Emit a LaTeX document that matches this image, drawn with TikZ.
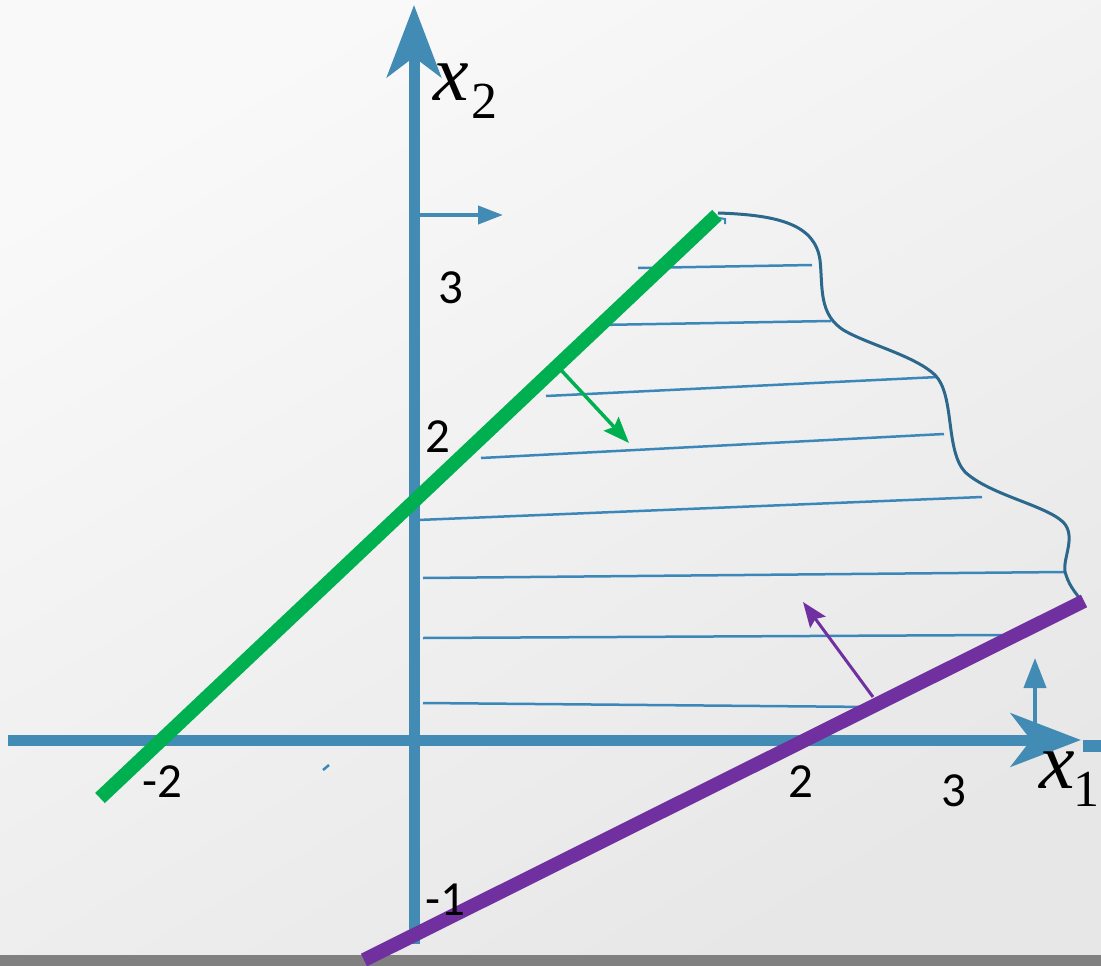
\documentclass[tikz,border=0pt]{standalone}
\usepackage{fontspec}
\setmainfont{Liberation Serif}
\newfontfamily\tickfont{Carlito}
\usetikzlibrary{arrows.meta}
\definecolor{axisblue}{RGB}{66,139,180}
\definecolor{hatchblue}{RGB}{60,135,185}
\definecolor{curveblue}{RGB}{44,104,140}
\definecolor{mygreen}{RGB}{0,176,80}
\definecolor{mypurple}{RGB}{112,48,160}
\definecolor{bgA}{RGB}{249,249,249}
\definecolor{bgB}{RGB}{231,231,231}
\definecolor{barGray}{RGB}{128,128,128}
\newcommand{\subidx}[2]{\kern#1\raisebox{-18pt}{\fontsize{52}{52}\selectfont\upshape #2}}
\begin{document}
\begin{tikzpicture}[x=1pt,y=-1pt,
  axisline/.style={draw=axisblue,line width=11pt},
  smallarrow/.style={draw=axisblue,line width=4pt},
  hatch/.style={draw=hatchblue,line width=2.5pt},
  boundary/.style={draw=curveblue,line width=3pt},
  ticklab/.style={font=\tickfont\fontsize{49}{49}\selectfont,inner sep=0pt,anchor=base},
  varlab/.style={font=\fontsize{80}{80}\selectfont\itshape,inner sep=0pt,anchor=base west},
  constraint/.style={line width=14pt}
]
\useasboundingbox (0,0) rectangle (1101,966);
\shade[top color=bgA,bottom color=bgB,shading angle=30] (0,0) rectangle (1101,966);
\fill[barGray] (0,955) rectangle (1101,966);

% hatch lines
\draw[hatch] (638,268) -- (812,265);
\draw[hatch] (598,325) -- (831,321);
\draw[hatch] (546,396) -- (938,377);
\draw[hatch] (481,458) -- (944,434);
\draw[hatch] (418,520) -- (982,497);
\draw[hatch] (423,578) -- (1065,572);
\draw[hatch] (423,638) -- (1002,635);
\draw[hatch] (423,703) -- (873,707);

% boundary curve
\draw[boundary] (718,213) .. controls (780,215) and (815,225) .. (820,260)
  .. controls (823,287) and (818,315) .. (845,331)
  .. controls (870,345) and (915,356) .. (935,375)
  .. controls (955,395) and (945,450) .. (965,472)
  .. controls (990,495) and (1045,505) .. (1063,522)
  .. controls (1078,537) and (1060,562) .. (1066,575)
  .. controls (1070,588) and (1078,595) .. (1082,602);
\draw[hatchblue,line width=2pt] (719,218) -- (725,219) -- (725,224);
\draw[hatchblue,line width=2.5pt] (323,770) -- (329,765);

% axes
\coordinate (x1s) at (8,740);
\coordinate (x1e) at (1081,740);
\coordinate (x2s) at (414,944);
\coordinate (x2e) at (414,5);
\draw[axisline,-{Stealth[length=70pt,width=53pt,inset=20pt]}] (x1s) -- (x1e);
\draw[axisline,-{Stealth[length=72pt,width=54pt,inset=20pt]}] (x2s) -- (x2e);
\fill[axisblue] (1083,740) rectangle (1101,752);

% small direction arrows
\coordinate (ta1) at (419,215);
\coordinate (ta2) at (503,215);
\draw[smallarrow,-{Triangle[length=25pt,width=18pt]}] (ta1) -- (ta2);
\coordinate (ra1) at (1035,723);
\coordinate (ra2) at (1035,658);
\draw[smallarrow,-{Triangle[length=30pt,width=22pt]}] (ra1) -- (ra2);

% constraint lines
\coordinate (g1) at (100,798);
\coordinate (g2) at (717,215);
\draw[mygreen,constraint] (g1) -- (g2);
\coordinate (p1) at (364,960);
\coordinate (p2) at (1084,601);
\draw[mypurple,constraint] (p1) -- (p2);

% normal arrows
\coordinate (ga1) at (561,370);
\coordinate (ga2) at (629,443);
\draw[mygreen,line width=3.5pt,-{Stealth[length=26pt,width=20pt,inset=4pt]}] (ga1) -- (ga2);
\coordinate (pa1) at (873,697);
\coordinate (pa2) at (803,602);
\draw[mypurple,line width=3pt,-{Stealth[length=25pt,width=19pt,inset=4pt]}] (pa1) -- (pa2);

% tick labels
\node[ticklab] (t3y) at (451,303) {3};
\node[ticklab] (t2y) at (438,452) {2};
\node[ticklab] (tm2x) at (162,797) {-2};
\node[ticklab] (t2x) at (801,797) {2};
\node[ticklab] (t3x) at (954,806) {3};
\node[ticklab] (tm1y) at (445,915) {-1};

% axis labels
\node[varlab] (lx2) at (433,100) {x\subidx{3pt}{2}};
\node[varlab] (lx1) at (1039,788) {x\subidx{-1pt}{1}};
\end{tikzpicture}
\end{document}
